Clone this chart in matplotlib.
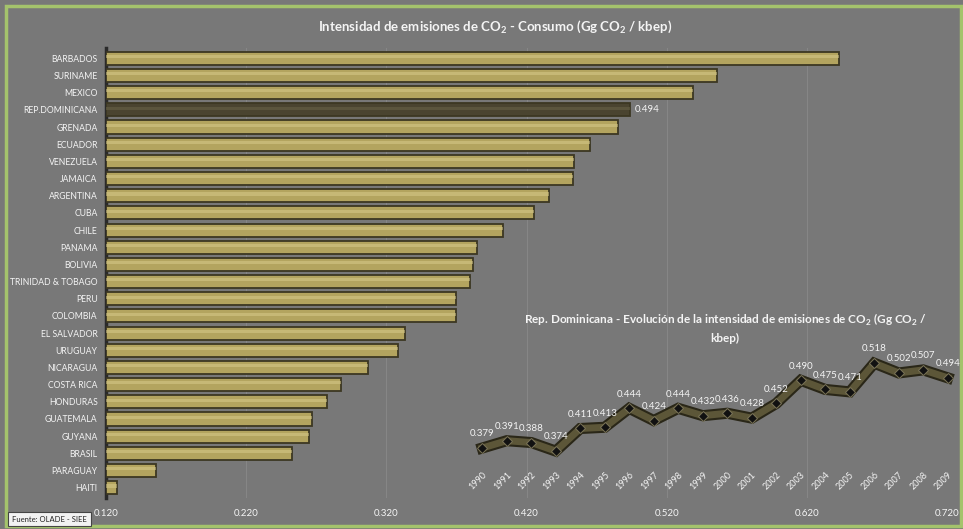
import matplotlib
matplotlib.use("Agg")
import matplotlib.pyplot as plt
from matplotlib.patches import Rectangle

# =====================
# DATA
# =====================
countries = ["BARBADOS", "SURINAME", "MEXICO", "REP.DOMINICANA", "GRENADA", "ECUADOR",
             "VENEZUELA", "JAMAICA", "ARGENTINA", "CUBA", "CHILE", "PANAMA", "BOLIVIA",
             "TRINIDAD & TOBAGO", "PERU", "COLOMBIA", "EL SALVADOR", "URUGUAY", "NICARAGUA",
             "COSTA RICA", "HONDURAS", "GUATEMALA", "GUYANA", "BRASIL", "PARAGUAY", "HAITI"]
intensity = [0.643, 0.556, 0.539, 0.494, 0.485, 0.465, 0.454, 0.453, 0.436, 0.425, 0.403,
             0.385, 0.382, 0.380, 0.370, 0.370, 0.333, 0.328, 0.307, 0.288, 0.278, 0.267,
             0.265, 0.253, 0.156, 0.128]
x_ticks = [0.120, 0.220, 0.320, 0.420, 0.520, 0.620, 0.720]

years = list(range(1990, 2010))
rd_values = [0.379, 0.391, 0.388, 0.374, 0.411, 0.413, 0.444, 0.424, 0.444, 0.432,
             0.436, 0.428, 0.452, 0.490, 0.475, 0.471, 0.518, 0.502, 0.507, 0.494]

FONT = "Lato"
plt.rcParams["font.family"] = [FONT, "DejaVu Sans"]
plt.rcParams["mathtext.fontset"] = "custom"
plt.rcParams["mathtext.rm"] = FONT
plt.rcParams["mathtext.bf"] = FONT + ":bold"

BG = "#787878"
GOLD = "#b3a45f"
GOLD_LIGHT = "#d6c98a"
DARK = "#4a4430"
TXT = "#f4f4f4"

W, H = 963, 529
fig = plt.figure(figsize=(W / 100, H / 100), dpi=100)
fig.patch.set_facecolor(BG)

# green frame
fig.patches.append(Rectangle((6 / W, 3 / H), 1 - 8 / W, 1 - 9 / H, transform=fig.transFigure,
                             fill=False, edgecolor="#a4c36c", linewidth=2.5))


def px_axes(x0, y0, x1, y1):
    # pixel box (top-left origin) -> figure coords
    return fig.add_axes([x0 / W, 1 - y1 / H, (x1 - x0) / W, (y1 - y0) / H])


# =====================
# MAIN BAR CHART
# =====================
ax = px_axes(106, 48, 947, 498)
ax.set_facecolor(BG)
ypos = list(range(len(countries)))[::-1]
colors = [DARK if c == "REP.DOMINICANA" else GOLD for c in countries]
base = x_ticks[0]
widths = [v - base for v in intensity]
ax.barh(ypos, widths, left=base, height=0.76, color=colors, edgecolor="#3c3722",
        linewidth=1.3, zorder=3)
# highlight stripe for a rounded look
hl = ["#6a6448" if c == "REP.DOMINICANA" else GOLD_LIGHT for c in countries]
ax.barh([y + 0.1 for y in ypos], widths, left=base, height=0.18, color=hl,
        linewidth=0, alpha=0.55, zorder=4)

idx = countries.index("REP.DOMINICANA")
ax.text(intensity[idx] + 0.003, ypos[idx], f"{intensity[idx]:.3f}", color=TXT,
        fontsize=7, va="center", ha="left")

ax.set_xlim(x_ticks[0], x_ticks[-1])
ax.set_ylim(-0.6, len(countries) - 0.4)
ax.set_xticks(x_ticks)
ax.set_xticklabels([f"{t:.3f}" for t in x_ticks], color=TXT, fontsize=7)
ax.set_yticks(ypos)
ax.set_yticklabels(countries, color=TXT, fontsize=6.2)
ax.tick_params(axis="x", length=0, pad=8)
ax.tick_params(axis="y", length=0, pad=6)
ax.grid(axis="x", color="#868686", linewidth=0.8, zorder=0)
for s in ["top", "right", "bottom"]:
    ax.spines[s].set_visible(False)
ax.spines["left"].set_color("#2a2a2a")
ax.spines["left"].set_linewidth(2.5)

fig.text(495 / W, 1 - 27 / H, r"Intensidad de emisiones de CO$_\mathbf{2}$ - Consumo (Gg CO$_\mathbf{2}$ / kbep)",
         ha="center", va="center", color=TXT, fontsize=9.5, fontweight="bold")

# =====================
# INSET LINE CHART
# =====================
ins = px_axes(470, 340, 960, 470)
ins.patch.set_alpha(0)
ins.plot(years, rd_values, color="#2a2718", linewidth=8, solid_joinstyle="miter", zorder=2)
ins.plot(years, rd_values, color="#5c5638", linewidth=5, solid_joinstyle="miter", zorder=3)
ins.plot(years, rd_values, linestyle="none", marker="D", markersize=5.5,
         color="#111111", markeredgecolor="#7a7458", markeredgewidth=0.7, zorder=4)
for yr, v in zip(years, rd_values):
    ins.annotate(f"{v:.3f}", (yr, v), xytext=(0, 7), textcoords="offset points",
                 ha="center", va="bottom", color=TXT, fontsize=7)
ins.set_xlim(1989.5, 2009.5)
ins.set_ylim(0.343, 0.556)
ins.set_xticks(years)
ins.set_xticklabels([str(y) for y in years], rotation=45, fontsize=6.5, color=TXT,
                    ha="right", rotation_mode="anchor")
ins.set_yticks([])
ins.tick_params(axis="x", length=0, pad=0)
for s in ins.spines.values():
    s.set_visible(False)

fig.text(725 / W, 1 - 328 / H,
         "Rep. Dominicana - Evolución de la intensidad de emisiones de CO$_\\mathbf{2}$ (Gg CO$_\\mathbf{2}$ /\nkbep)",
         ha="center", va="center", color=TXT, fontsize=8.5, fontweight="bold", linespacing=1.5)

# source box
fig.text(12 / W, 1 - 519 / H, "Fuente: OLADE - SIEE", fontsize=5.5, color="#222222",
         ha="left", va="center",
         bbox=dict(boxstyle="square,pad=0.5", facecolor="#f2f2f2", edgecolor="#444444",
                   linewidth=0.8))

fig.savefig("out.png", dpi=100, facecolor=fig.get_facecolor())
